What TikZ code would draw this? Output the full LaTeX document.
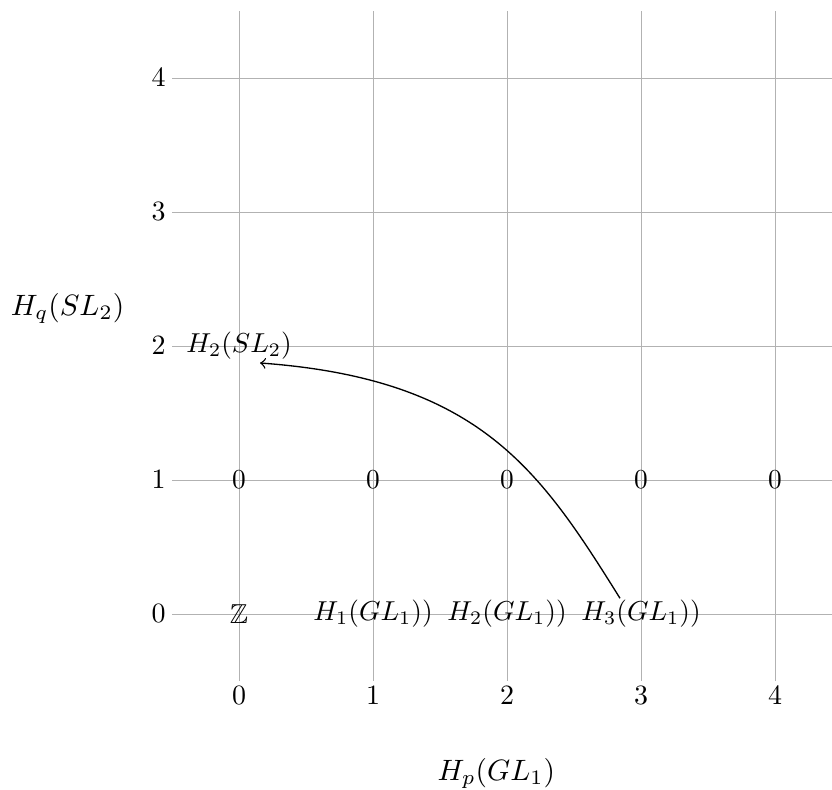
\documentclass[tikz,border=0pt]{standalone}
\usepackage{amssymb}
\usetikzlibrary{calc}
\begin{document}
\begin{tikzpicture}[x=1.6cm,y=1.6cm,
  gridline/.style={gray!60,line width=0.3pt},
  entry/.style={inner sep=2pt,scale=0.93},
  ticklabel/.style={inner sep=0pt,scale=0.95},
  axistitle/.style={inner sep=0pt},
  diff/.style={->,black,line width=0.45pt}]
\useasboundingbox (-1.784,-1.313) rectangle (4.425,4.582);
% grid
\foreach \i in {0,...,4} {
  \draw[gridline] (\i,-0.5) -- (\i,4.5);
  \draw[gridline] (-0.5,\i) -- (4.425,\i);
}
% tick labels
\foreach \i in {0,...,4} {
  \node[ticklabel] (y\i) at (-0.6,\i) {$\i$};
  \node[ticklabel] (x\i) at (\i,-0.61) {$\i$};
}
% axis titles
\node[axistitle] (ytitle) at (-1.28,2.28) {$H_q(SL_2)$};
\node[axistitle] (xtitle) at (1.92,-1.19) {$H_p(GL_1)$};
% entries
\node[entry] (z) at (0,0) {$\mathbb{Z}$};
\node[entry] (h1) at (1,0) {$H_1(GL_1))$};
\node[entry] (h2) at (2,0) {$H_2(GL_1))$};
\node[entry] (h3) at (3,0) {$H_3(GL_1))$};
\foreach \i in {0,...,4} {
  \node[entry] (o\i) at (\i,1) {$0$};
}
\node[entry] (s2) at (0,2) {$H_2(SL_2)$};
% differential
\coordinate (dstart) at ($(h3.north)+(-0.157,-0.03)$);
\coordinate (dend) at ($(s2.south)+(0.157,0.02)$);
\draw[diff] (dstart) .. controls ($(dstart)+(-0.597,0.955)$) and ($(dend)+(1.642,-0.12)$) .. (dend);
\end{tikzpicture}
\end{document}
